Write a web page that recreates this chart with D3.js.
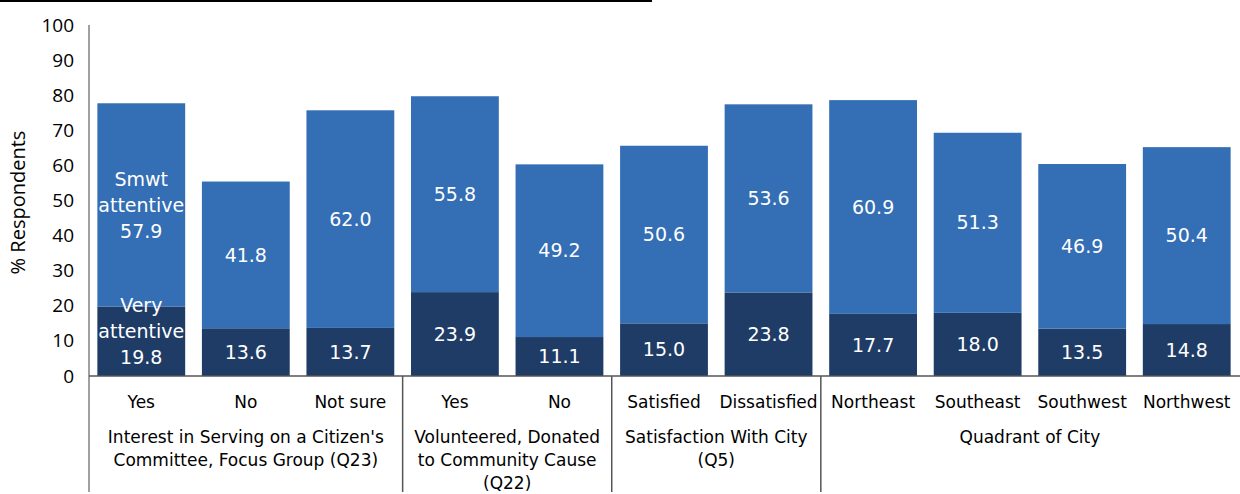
<!DOCTYPE html>
<html><head><meta charset="utf-8">
<script src="https://cdn.jsdelivr.net/npm/d3@7"></script>
<style>body{margin:0;background:#fff}svg{display:block}</style>
</head><body>
<svg id="c" width="1240" height="494"></svg>
<script>
const categories = ["Yes","No","Not sure","Yes","No","Satisfied","Dissatisfied","Northeast","Southeast","Southwest","Northwest"];
const veryAttentive = [19.8,13.6,13.7,23.9,11.1,15.0,23.8,17.7,18.0,13.5,14.8];
const smwtAttentive = [57.9,41.8,62.0,55.8,49.2,50.6,53.6,60.9,51.3,46.9,50.4];
const groups = [
  {lines:["Interest in Serving on a Citizen's","Committee, Focus Group (Q23)"], start:0, end:3},
  {lines:["Volunteered, Donated","to Community Cause","(Q22)"], start:3, end:5},
  {lines:["Satisfaction With City","(Q5)"], start:5, end:7},
  {lines:["Quadrant of City"], start:7, end:11}
];
const yTicks = [0,10,20,30,40,50,60,70,80,90,100];
const yTitle = "% Respondents";

const svg = d3.select("#c");
const x = d3.scaleBand().domain(d3.range(categories.length)).range([89,1239]).paddingInner(0.16).paddingOuter(0.08);
const y = d3.scaleLinear().domain([0,100]).range([376,25]);
const LIGHT = "#346EB4", DARK = "#1F3C66";
const FONT = "DejaVu Sans";

// top rule
svg.append("rect").attr("x",0).attr("y",0).attr("width",652).attr("height",2).attr("fill","#000");

// bars
const idx = d3.range(categories.length);
svg.selectAll("rect.dark").data(idx).join("rect")
  .attr("x",i=>x(i)).attr("width",x.bandwidth())
  .attr("y",i=>y(veryAttentive[i])).attr("height",i=>y(0)-y(veryAttentive[i]))
  .attr("fill",DARK);
svg.selectAll("rect.light").data(idx).join("rect")
  .attr("x",i=>x(i)).attr("width",x.bandwidth())
  .attr("y",i=>y(veryAttentive[i]+smwtAttentive[i])).attr("height",i=>y(veryAttentive[i])-y(veryAttentive[i]+smwtAttentive[i]))
  .attr("fill",LIGHT);

// value labels
function label(cx, cy, lines){
  const t = svg.append("text").attr("text-anchor","middle").attr("fill","#fff")
    .attr("font-family",FONT).attr("font-size",19);
  const lh = 26, n = lines.length;
  lines.forEach((s,k)=>{
    t.append("tspan").attr("x",cx).attr("y",cy + (k-(n-1)/2)*lh).attr("dy","0.35em").text(s);
  });
}
idx.forEach(i=>{
  const cx = x(i)+x.bandwidth()/2;
  const dMid = (y(0)+y(veryAttentive[i]))/2;
  const lMid = (y(veryAttentive[i])+y(veryAttentive[i]+smwtAttentive[i]))/2;
  if(i===0){
    label(cx, lMid, ["Smwt","attentive",smwtAttentive[i].toFixed(1)]);
    label(cx, dMid-10, ["Very","attentive",veryAttentive[i].toFixed(1)]);
  } else {
    label(cx, lMid, [smwtAttentive[i].toFixed(1)]);
    label(cx, dMid, [veryAttentive[i].toFixed(1)]);
  }
});

// y axis
const yAxis = svg.append("g").attr("transform","translate(89,0)")
  .call(d3.axisLeft(y).tickValues(yTicks).tickSize(0).tickPadding(15));
yAxis.select(".domain").remove();
yAxis.selectAll("text").attr("font-family","Open Sans").attr("font-size",19).attr("fill","#000");
svg.append("line").attr("x1",89).attr("x2",89).attr("y1",y(100)).attr("y2",492).attr("stroke","#808080").attr("stroke-width",1.5);
svg.append("text").attr("transform",`translate(25,${(y(0)+y(100))/2 + 2}) rotate(-90)`)
  .attr("text-anchor","middle").attr("font-family","Open Sans").attr("font-size",20).text(yTitle);

// baseline
svg.append("line").attr("x1",89).attr("x2",1240).attr("y1",y(0)).attr("y2",y(0)).attr("stroke","#555").attr("stroke-width",1.5);

// category labels
svg.selectAll("text.cat").data(idx).join("text")
  .attr("x",i=>x(i)+x.bandwidth()/2).attr("y",408).attr("text-anchor","middle")
  .attr("font-family",FONT).attr("font-size",17).attr("fill","#000").text(i=>categories[i]);

// group separators and labels
const step = x.step();
const edge = i => 89 + i*step;
groups.forEach((g,gi)=>{
  if(gi>0) svg.append("line").attr("x1",edge(g.start)).attr("x2",edge(g.start)).attr("y1",y(0)).attr("y2",492).attr("stroke","#555").attr("stroke-width",1.5);
  const cx = (edge(g.start)+edge(g.end))/2;
  const t = svg.append("text").attr("text-anchor","middle").attr("font-family",FONT).attr("font-size",17).attr("fill","#000");
  g.lines.forEach((s,k)=>t.append("tspan").attr("x",cx).attr("y",443+k*23).text(s));
});
</script>
</body></html>
